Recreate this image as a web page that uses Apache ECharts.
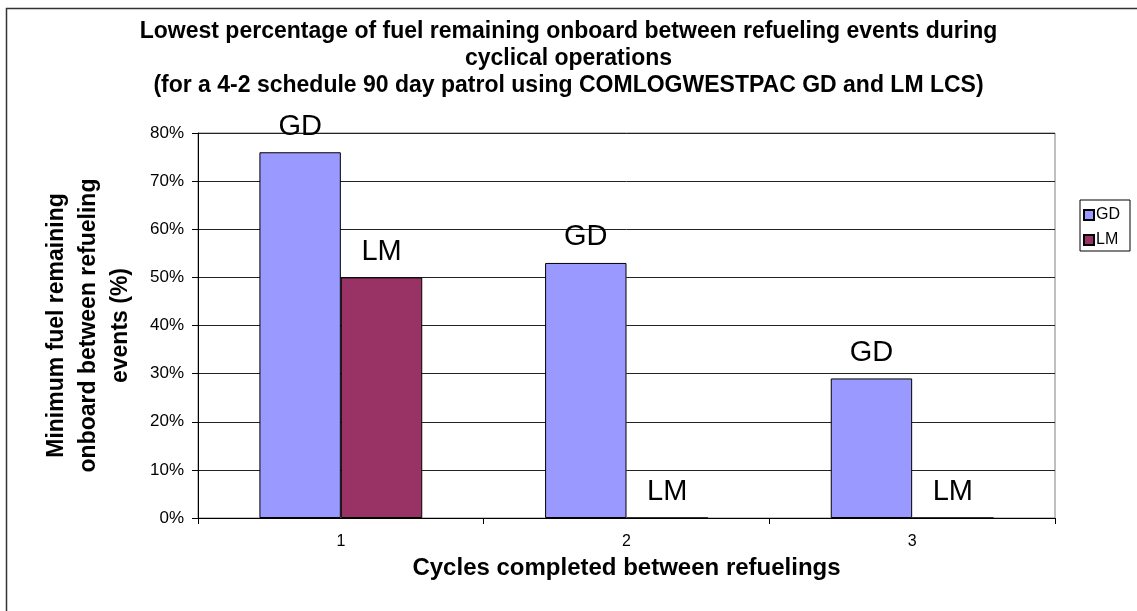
<!DOCTYPE html>
<html>
<head>
<meta charset="utf-8">
<script src="https://cdn.jsdelivr.net/npm/echarts@6/dist/echarts.min.js"></script>
<style>
  html, body { margin: 0; padding: 0; background: #fff; }
  #chart { width: 1137px; height: 611px; }
</style>
</head>
<body>
<div id="chart"></div>
<script>
  'use strict'

  var cycles = ['1', '2', '3'];
  var gdValues = [76, 53, 29];
  var lmValues = [50, 0, 0];
  var yTicks = { min: 0, max: 80, interval: 10 };

  var font = 'Arial, "Liberation Sans", sans-serif';

  function barSeries(name, data, color) {
    return {
      name: name,
      type: 'bar',
      data: data,
      barGap: '0%',
      barCategoryGap: '43%',
      itemStyle: { color: color, borderColor: '#000', borderWidth: 1 },
      label: {
        show: true,
        position: 'top',
        distance: 11,
        formatter: name,
        color: '#000',
        fontFamily: font,
        fontSize: 29
      }
    };
  }

  var option = {
    animation: false,
    backgroundColor: '#fff',
    title: {
      text: 'Lowest percentage of fuel remaining onboard between refueling events during\ncyclical operations\n(for a 4-2 schedule 90 day patrol using COMLOGWESTPAC GD and LM LCS)',
      left: 'center',
      top: 18,
      padding: 0,
      textStyle: {
        fontFamily: font,
        fontWeight: 'bold',
        fontSize: 23,
        lineHeight: 27,
        color: '#000'
      }
    },
    legend: {
      orient: 'vertical',
      left: 1080,
      top: 200,
      padding: [7, 10, 3, 3],
      itemGap: 9,
      itemWidth: 10,
      itemHeight: 10,
      icon: 'rect',
      borderColor: '#000',
      borderWidth: 1,
      textStyle: { fontFamily: font, fontSize: 16, color: '#000', padding: [0, 0, 0, -3] },
      data: ['GD', 'LM']
    },
    grid: {
      left: 198,
      right: 82,
      top: 133,
      bottom: 93,
      show: true,
      borderColor: '#808080',
      borderWidth: 1
    },
    xAxis: {
      type: 'category',
      data: cycles,
      name: 'Cycles completed between refuelings',
      nameLocation: 'middle',
      nameGap: 38,
      nameTextStyle: { fontFamily: font, fontWeight: 'bold', fontSize: 24, color: '#000' },
      axisLine: { lineStyle: { color: '#000', width: 1 } },
      axisTick: { show: true, length: 6, alignWithLabel: false, lineStyle: { color: '#000' } },
      axisLabel: { fontFamily: font, fontSize: 16, color: '#000', margin: 16 },
      splitLine: { show: false }
    },
    yAxis: {
      type: 'value',
      min: yTicks.min,
      max: yTicks.max,
      interval: yTicks.interval,
      name: 'Minimum fuel remaining\nonboard between refueling\nevents (%)',
      nameLocation: 'middle',
      nameRotate: 90,
      nameGap: 61,
      nameTextStyle: { fontFamily: font, fontWeight: 'bold', fontSize: 23, lineHeight: 32, color: '#000', align: 'center' },
      axisLine: { show: true, lineStyle: { color: '#000', width: 1 } },
      axisTick: { show: true, length: 6, lineStyle: { color: '#000' } },
      axisLabel: { fontFamily: font, fontSize: 17, color: '#000', margin: 14, formatter: '{value}%' },
      splitLine: { show: true, lineStyle: { color: '#222', width: 1 } }
    },
    graphic: [
      {
        type: 'rect',
        shape: { x: 6.5, y: 8.5, width: 1200, height: 700 },
        style: { fill: 'none', stroke: '#333', lineWidth: 1.5 },
        silent: true
      }
    ],
    series: [
      barSeries('GD', gdValues, '#9999FF'),
      barSeries('LM', lmValues, '#993366')
    ]
  };

  var chart = echarts.init(document.getElementById('chart'));
  chart.setOption(option);
</script>
</body>
</html>
